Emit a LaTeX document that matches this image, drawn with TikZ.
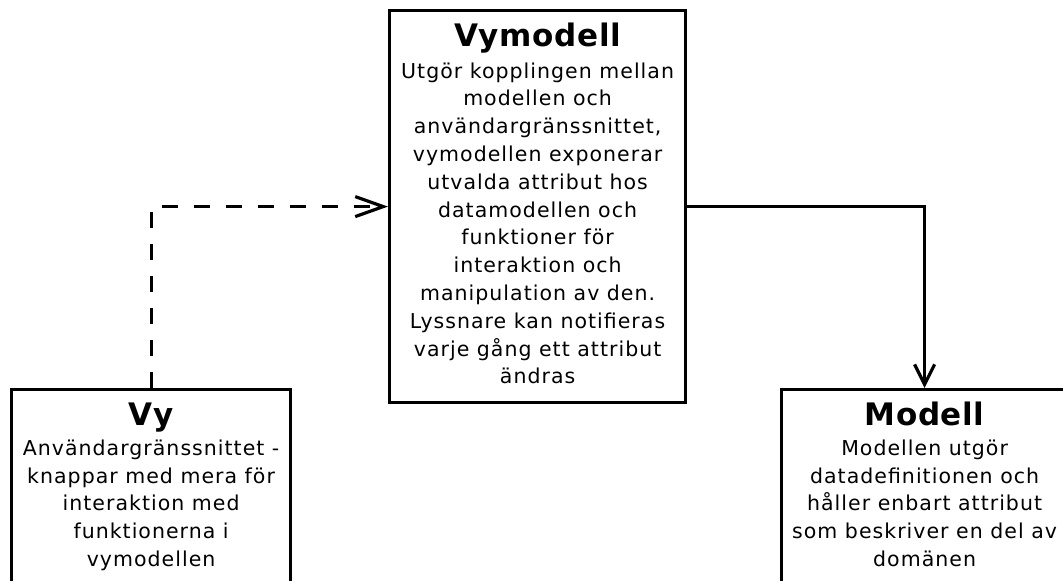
\documentclass[tikz,border=0pt]{standalone}
\usepackage{fontspec}
\usetikzlibrary{arrows.meta,calc}
\newfontfamily\bodyfont{DejaVu Sans}[LetterSpace=5]
\newfontfamily\titlefont{DejaVu Sans}[LetterSpace=2]
\begin{document}
\begin{tikzpicture}[x=1pt,y=-1pt,
  box/.style={draw,line width=3.2pt,inner sep=0pt,anchor=north west,fill=white},
  title/.style={anchor=base,inner sep=0pt,font=\titlefont\bfseries\fontsize{31}{36}\selectfont},
  body/.style={anchor=base,inner sep=0pt,align=center,font=\bodyfont\fontsize{20.5}{27.8}\selectfont},
  conn/.style={line width=3.2pt}]
\useasboundingbox (0,0) rectangle (1063,581);
\clip (0,0) rectangle (1063,581);
\fill[white] (0,0) rectangle (1063,581);
% boxes
\node[box,minimum width=296pt,minimum height=392pt] (vm) at (388,9) {};
\node[box,minimum width=279pt,minimum height=250pt] (vy) at (10,388) {};
\node[box,minimum width=286pt,minimum height=250pt] (md) at (780,388) {};
% texts (body nodes are anchored at the baseline of their last line)
\node[title] (vmt) at ($(vm.north)+(0,37)$) {Vymodell};
\node[body] (vmb) at ($(vm.north)+(0,374.8)$) {Utgör kopplingen mellan\\modellen och\\användargränssnittet,\\vymodellen exponerar\\utvalda attribut hos\\datamodellen och\\funktioner för\\interaktion och\\manipulation av den.\\Lyssnare kan notifieras\\varje gång ett attribut\\ändras};
\node[title] (vyt) at ($(vy.north)+(0,37)$) {Vy};
\node[body] (vyb) at ($(vy.north)+(0,178.5)$) {Användargränssnittet -\\knappar med mera för\\interaktion med\\funktionerna i\\vymodellen};
\node[title] (mdt) at ($(md.north)+(0,37)$) {Modell};
\node[body] (mdb) at ($(md.north)+(0,178.5)$) {Modellen utgör\\datadefinitionen och\\håller enbart attribut\\som beskriver en del av\\domänen};
% connectors
\draw[conn,dash pattern=on 16pt off 16pt,-{Straight Barb[length=28pt,width=20pt]}] (vy.north) |- (vm.west);
\draw[conn,-{Straight Barb[length=20pt,width=20pt]}] (vm.east) -| (md.north);
\end{tikzpicture}
\end{document}
